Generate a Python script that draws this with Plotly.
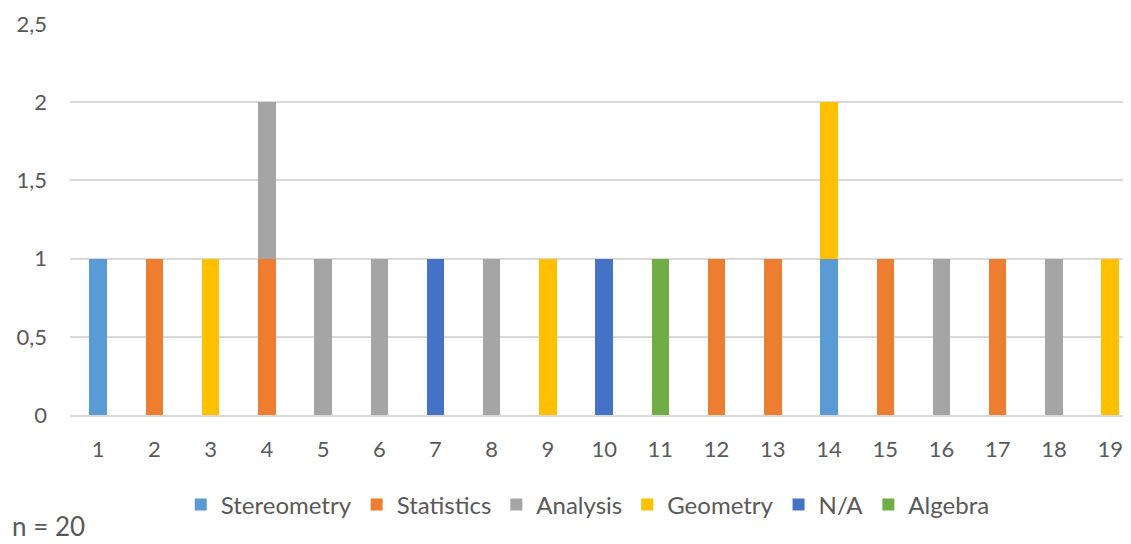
import plotly.graph_objects as go

categories = [str(i) for i in range(1, 20)]

stereometry = [1, 0, 0, 0, 0, 0, 0, 0, 0, 0, 0, 0, 0, 1, 0, 0, 0, 0, 0]
statistics  = [0, 1, 0, 1, 0, 0, 0, 0, 0, 0, 0, 1, 1, 0, 1, 0, 1, 0, 0]
analysis    = [0, 0, 0, 1, 1, 1, 0, 1, 0, 0, 0, 0, 0, 0, 0, 1, 0, 1, 0]
geometry    = [0, 0, 1, 0, 0, 0, 0, 0, 1, 0, 0, 0, 0, 1, 0, 0, 0, 0, 1]
n_a         = [0, 0, 0, 0, 0, 0, 1, 0, 0, 1, 0, 0, 0, 0, 0, 0, 0, 0, 0]
algebra     = [0, 0, 0, 0, 0, 0, 0, 0, 0, 0, 1, 0, 0, 0, 0, 0, 0, 0, 0]

y_ticks = [0, 0.5, 1, 1.5, 2, 2.5]
y_labels = ["0", "0,5", "1", "1,5", "2", "2,5"]

series = [
    ("Stereometry", stereometry, "#5B9BD5"),
    ("Statistics", statistics, "#ED7D31"),
    ("Analysis", analysis, "#A5A5A5"),
    ("Geometry", geometry, "#FFC000"),
    ("N/A", n_a, "#4472C4"),
    ("Algebra", algebra, "#70AD47"),
]

fig = go.Figure()
for name, vals, color in series:
    fig.add_trace(go.Bar(
        x=categories, y=vals, name=name,
        marker=dict(color=color, line=dict(width=0)),
    ))

# the page puts the figure 8px in from the top-left corner
fig.update_layout(
    barmode="stack",
    bargap=0.69,
    width=1123, height=536,
    margin=dict(l=62, r=0, t=16, b=129),
    plot_bgcolor="white", paper_bgcolor="white",
    font=dict(family="Lato, Open Sans, sans-serif", size=22, color="#595959"),
    legend=dict(orientation="h", x=0.488, xanchor="center", y=-0.23, yanchor="middle",
                font=dict(size=24, color="#595959"), itemwidth=30, traceorder="normal"),
    xaxis=dict(type="category", range=[-0.5, 18.37], showgrid=False,
               showline=True, linecolor="#D9D9D9", linewidth=1.5, ticks="",
               ticklabelstandoff=14, tickfont=dict(size=22)),
    yaxis=dict(range=[0, 2.5], tickvals=y_ticks, ticktext=y_labels,
               gridcolor="#D9D9D9", gridwidth=1.5,
               zeroline=False, showline=False, ticks="", ticklabelstandoff=22,
               tickfont=dict(size=22)),
    annotations=[dict(text="n = 20", xref="paper", yref="paper", x=-0.057, y=-0.284,
                      xanchor="left", yanchor="middle", showarrow=False,
                      font=dict(size=26, color="#595959"))],
)

fig.write_html("out.html")
